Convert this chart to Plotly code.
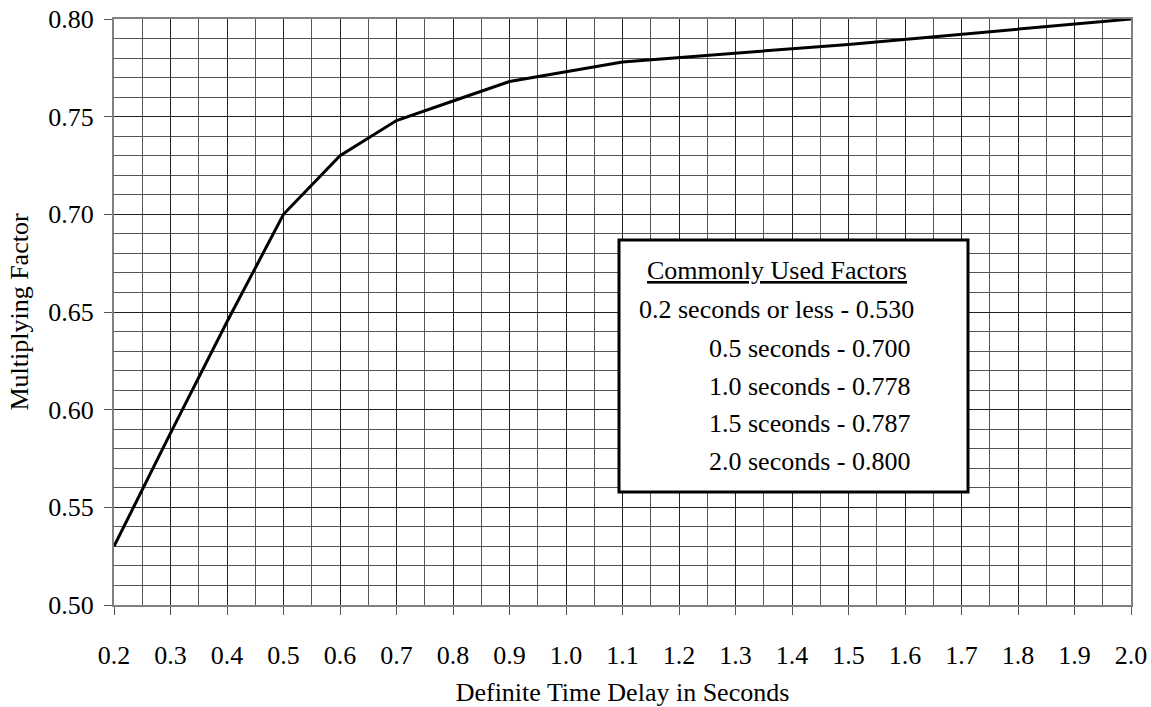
import plotly.graph_objects as go

delay_s = [0.2, 0.3, 0.4, 0.5, 0.6, 0.7, 0.8, 0.9, 1.1, 1.5, 2.0]
factor = [0.530, 0.588, 0.645, 0.700, 0.730, 0.748, 0.758, 0.768, 0.778, 0.787, 0.800]

x_ticks = [round(0.2 + 0.1 * i, 1) for i in range(19)]
x_labels = [f"{v:.1f}" for v in x_ticks]
y_ticks = [0.50, 0.55, 0.60, 0.65, 0.70, 0.75, 0.80]
y_labels = [f"{v:.2f}" for v in y_ticks]

box_title = "Commonly Used Factors"
box_lines = [
    "0.2 seconds or less - 0.530",
    "0.5 seconds - 0.700",
    "1.0 seconds - 0.778",
    "1.5 sceonds - 0.787",
    "2.0 seconds - 0.800",
]

FONT = "Liberation Serif"
FS = 26

fig = go.Figure()
fig.add_trace(go.Scatter(x=delay_s, y=factor, mode="lines",
                         line=dict(color="black", width=3), showlegend=False,
                         hoverinfo="x+y"))

W, H = 1151, 707
L, T = 114, 19
R = W - L - 1017
B = H - T - 586
pw = W - L - R
ph = H - T - B

def px(x):
    return (x - L) / pw

def py(y):
    return (H - B - y) / ph

fig.update_layout(
    width=W, height=H,
    margin=dict(l=L, r=R, t=T, b=B),
    paper_bgcolor="white", plot_bgcolor="white",
    font=dict(family=FONT, size=FS, color="black"),
    xaxis=dict(
        range=[0.2, 2.0], tickvals=x_ticks, ticktext=x_labels,
        ticks="outside", ticklen=8, tickcolor="#555", tickwidth=1,
        ticklabelstandoff=18, automargin=False,
        tickfont=dict(family=FONT, size=FS),
        showgrid=True, gridcolor="#222", gridwidth=1,
        minor=dict(dtick=0.05, tick0=0.2, showgrid=True, gridcolor="#555", gridwidth=1),
        showline=True, linecolor="#808080", linewidth=2, mirror=True,
        zeroline=False,
        title=dict(text="Definite Time Delay in Seconds", standoff=14,
                   font=dict(family=FONT, size=FS)),
    ),
    yaxis=dict(
        range=[0.5, 0.8], tickvals=y_ticks, ticktext=y_labels,
        ticks="outside", ticklen=8, tickcolor="#555", tickwidth=1,
        ticklabelstandoff=5, automargin=False,
        tickfont=dict(family=FONT, size=FS),
        showgrid=True, gridcolor="#222", gridwidth=1,
        minor=dict(dtick=0.01, tick0=0.5, showgrid=True, gridcolor="#555", gridwidth=1),
        showline=True, linecolor="#808080", linewidth=2, mirror=True,
        zeroline=False,
        title=dict(text="Multiplying Factor", standoff=12,
                   font=dict(family=FONT, size=FS)),
    ),
)

fig.add_shape(type="rect", xref="paper", yref="paper",
              x0=px(619), x1=px(968), y0=py(492), y1=py(240),
              line=dict(color="black", width=3), fillcolor="white", layer="above")

fig.add_annotation(xref="paper", yref="paper", x=px(777), y=py(270),
                   text=f"<u>{box_title}</u>", showarrow=False,
                   xanchor="center", yanchor="middle",
                   font=dict(family=FONT, size=FS, color="black"))

line_y = [310, 349, 386, 423, 461]
for i, (t, yy) in enumerate(zip(box_lines, line_y)):
    fig.add_annotation(xref="paper", yref="paper",
                       x=px(916 if i == 0 else 912), y=py(yy),
                       text=t, showarrow=False, xanchor="right", yanchor="middle",
                       font=dict(family=FONT, size=FS, color="black"))

fig.write_html("out.html",
               config={"displayModeBar": False},
               post_script="document.body.style.margin='0';document.body.style.overflow='hidden';")
